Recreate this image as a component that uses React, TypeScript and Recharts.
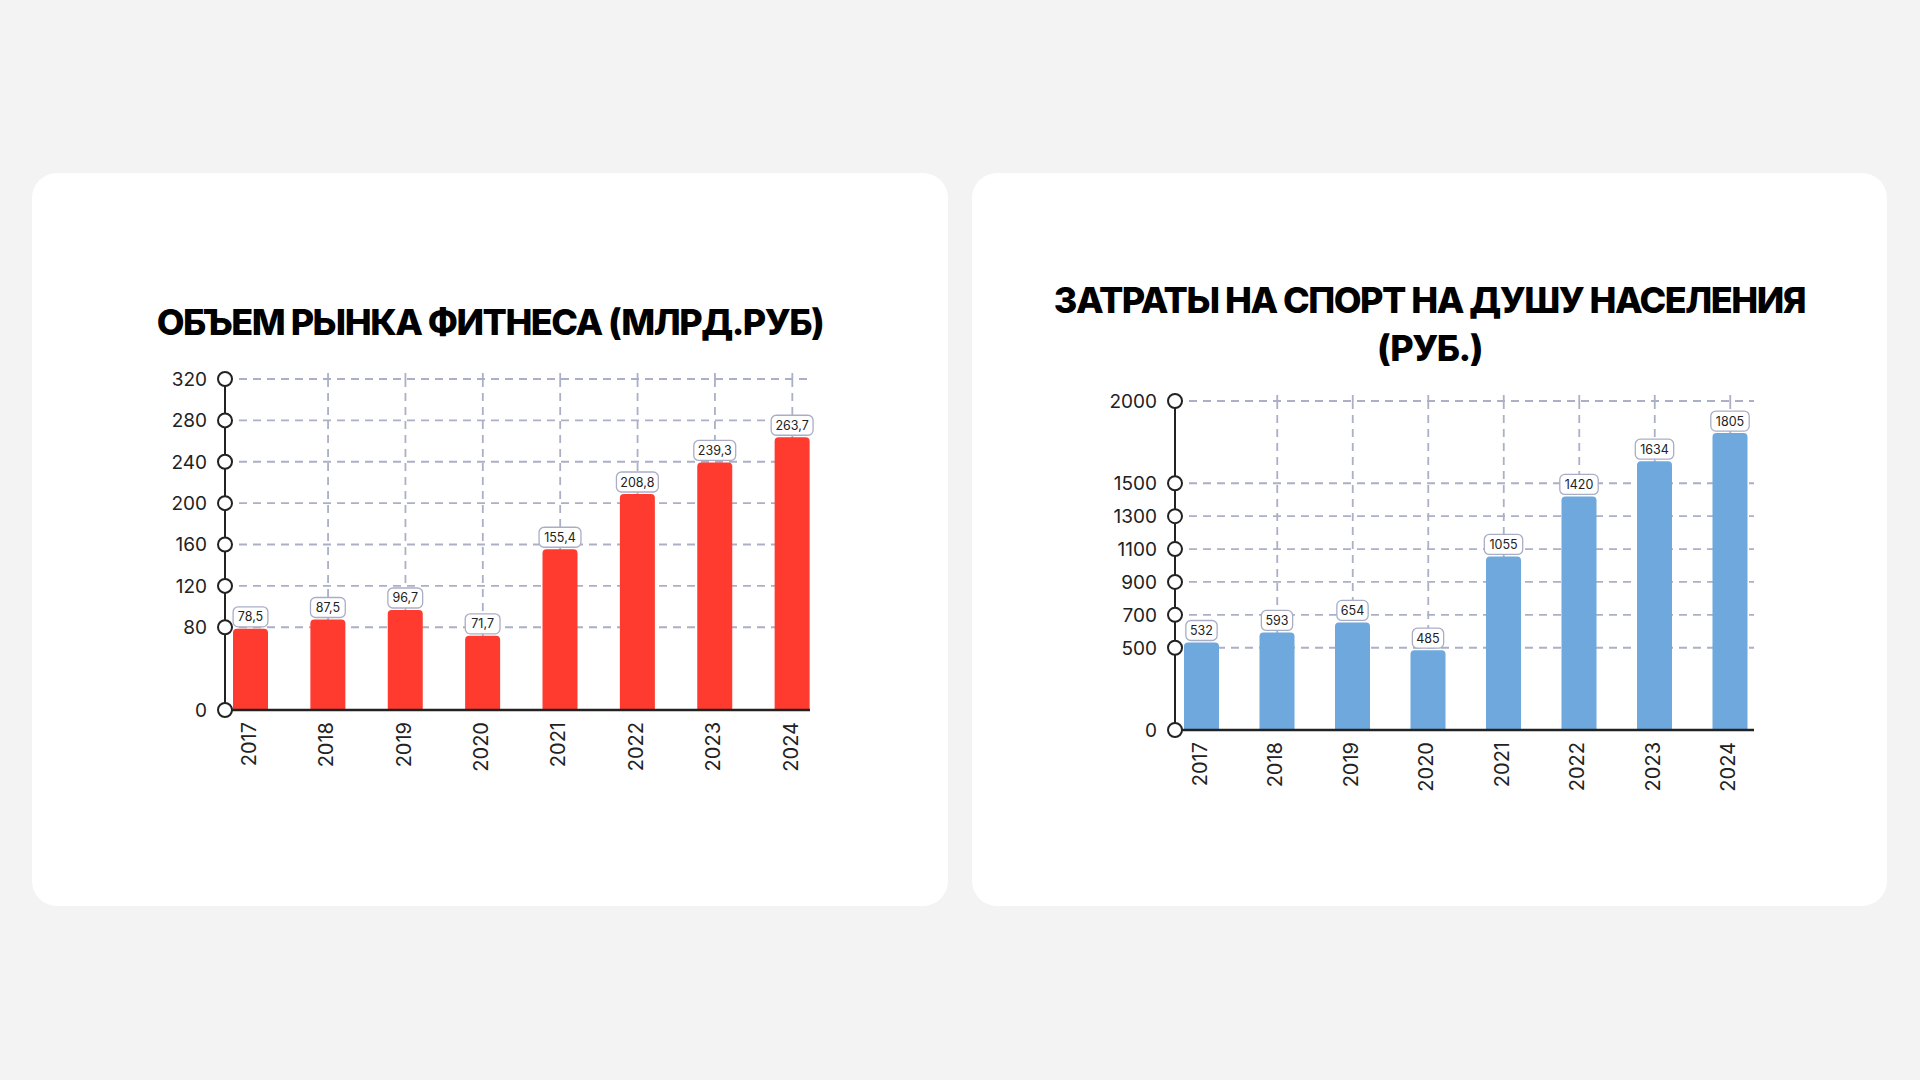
import { BarChart, Bar, XAxis, YAxis, CartesianGrid, LabelList, ReferenceLine } from 'recharts'

const years = ['2017', '2018', '2019', '2020', '2021', '2022', '2023', '2024']
const marketValues = [78.5, 87.5, 96.7, 71.7, 155.4, 208.8, 239.3, 263.7]
const spendValues = [532, 593, 654, 485, 1055, 1420, 1634, 1805]
const marketTicks = [0, 80, 120, 160, 200, 240, 280, 320]
const spendTicks = [0, 500, 700, 900, 1100, 1300, 1500, 2000]

const marketData = years.map((year, i) => ({ year, value: marketValues[i] }))
const spendData = years.map((year, i) => ({ year, value: spendValues[i] }))

const GRID = '#abb0c6'
const AXIS = '#222'
const FONT = 'Inter, "Noto Sans", sans-serif'

function YTick({ x, y, payload }: any) {
  return (
    <g>
      <circle cx={x} cy={y} r={7} fill="#fff" stroke={AXIS} strokeWidth={2} />
      <text x={x - 18} y={y} dy="0.36em" textAnchor="end" fill={AXIS} fontSize={19} fontFamily={FONT}>
        {payload.value}
      </text>
    </g>
  )
}

function XTick({ x, y, payload }: any) {
  return (
    <text
      transform={`translate(${x - 2},${y + 12}) rotate(-90)`}
      dy="0.36em"
      textAnchor="end"
      fill={AXIS}
      fontSize={20}
      fontFamily={FONT}
    >
      {payload.value}
    </text>
  )
}

const fmtMarket = (v: number) => v.toFixed(1).replace('.', ',')
const fmtSpend = (v: number) => String(v)

function makeValueLabel(fmt: (v: number) => string) {
  return function ValueLabel({ x, y, width, value }: any) {
    const s = fmt(Number(value))
    const digits = s.replace(',', '').length
    const w = digits * 7.1 + (s.includes(',') ? 3.5 : 0) + 10
    const h = 20
    const cx = x + width / 2
    const top = y - 2 - h
    return (
      <g>
        <rect x={cx - w / 2} y={top} width={w} height={h} rx={5} fill="#fff" stroke="#a9aec6" strokeWidth={1.3} />
        <text x={cx} y={top + h / 2} dy="0.36em" textAnchor="middle" fill="#222" fontSize={12.5} fontFamily={FONT}>
          {s}
        </text>
      </g>
    )
  }
}

const MarketLabel = makeValueLabel(fmtMarket)
const SpendLabel = makeValueLabel(fmtSpend)

// vertical grid lines go through the middle of each category except the first one
const centerLines = ({ xAxis }: any) => {
  const s = xAxis?.scale
  if (!s) return []
  const bw = typeof s.bandwidth === 'function' ? s.bandwidth() : 0
  const f = typeof s === 'function' ? s : (v: string) => s.map(v)
  return years.slice(1).map(yr => f(yr) + bw / 2)
}

interface PanelProps {
  data: { year: string; value: number }[]
  ticks: number[]
  color: string
  label: (p: any) => any
  padding: { left: number; right: number }
  margin: { top: number; right: number; bottom: number; left: number }
}

function Panel({ data, ticks, color, label, padding, margin }: PanelProps) {
  const max = ticks[ticks.length - 1]
  return (
    <BarChart width={720} height={460} data={data} margin={margin}>
      <CartesianGrid
        stroke={GRID}
        strokeWidth={1.8}
        strokeDasharray="8 6"
        verticalCoordinatesGenerator={centerLines}
      />
      {/* short stubs of the vertical grid poking above the top line */}
      {years.slice(1).map(yr => (
        <ReferenceLine
          key={yr}
          segment={[{ x: yr, y: max }, { x: yr, y: max * 1.032 }]}
          ifOverflow="visible"
          stroke={GRID}
          strokeWidth={1.8}
          strokeDasharray="6 6"
        />
      ))}
      <XAxis
        dataKey="year"
        interval={0}
        tickLine={false}
        tickSize={0}
        tickMargin={0}
        height={60}
        padding={padding}
        axisLine={{ stroke: AXIS, strokeWidth: 2.4 }}
        tick={<XTick />}
      />
      <YAxis
        type="number"
        domain={[0, max]}
        ticks={ticks}
        interval={0}
        width={60}
        tickLine={false}
        tickSize={0}
        tickMargin={0}
        axisLine={{ stroke: AXIS, strokeWidth: 2 }}
        tick={<YTick />}
      />
      <Bar dataKey="value" fill={color} barSize={35} radius={[4, 4, 0, 0]} isAnimationActive={false}>
        <LabelList dataKey="value" content={label} />
      </Bar>
    </BarChart>
  )
}

const titleStyle: React.CSSProperties = {
  position: 'absolute',
  textAlign: 'center',
  fontFamily: FONT,
  fontWeight: 800,
  fontSize: 36,
  letterSpacing: '-1.5px',
  color: '#000',
  lineHeight: '48px',
}

export default function App() {
  return (
    <div style={{ position: 'absolute', left: 0, top: 0, width: 1920, height: 1080, background: '#f3f3f3', overflow: 'hidden' }}>
      <div style={{ position: 'absolute', left: 32, top: 173, width: 916, height: 733, background: '#fff', borderRadius: 25 }} />
      <div style={{ position: 'absolute', left: 972, top: 173, width: 915, height: 733, background: '#fff', borderRadius: 25 }} />

      <div style={{ ...titleStyle, left: 32, width: 916, top: 298 }}>ОБЪЕМ РЫНКА ФИТНЕСА (МЛРД.РУБ)</div>
      <div style={{ ...titleStyle, left: 972, width: 915, top: 276 }}>
        ЗАТРАТЫ НА СПОРТ НА ДУШУ НАСЕЛЕНИЯ
        <br />
        (РУБ.)
      </div>

      <div style={{ position: 'absolute', left: 130, top: 340 }}>
        <Panel
          data={marketData}
          ticks={marketTicks}
          color="#ff3b30"
          label={MarketLabel}
          padding={{ left: -13, right: -21 }}
          margin={{ top: 39, right: 40, bottom: 30, left: 35 }}
        />
      </div>
      <div style={{ position: 'absolute', left: 1080, top: 360 }}>
        <Panel
          data={spendData}
          ticks={spendTicks}
          color="#6fa8dc"
          label={SpendLabel}
          padding={{ left: -11, right: -14 }}
          margin={{ top: 41, right: 46, bottom: 30, left: 35 }}
        />
      </div>
    </div>
  )
}
